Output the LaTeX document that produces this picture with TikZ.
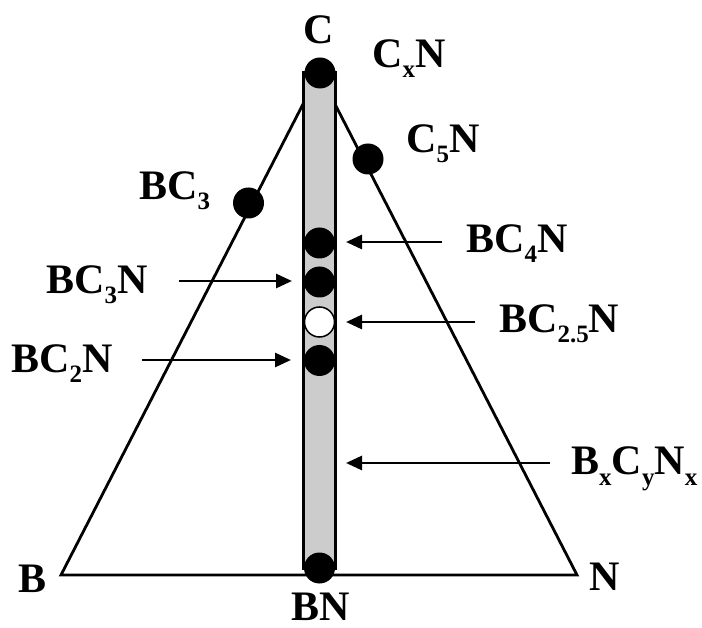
\documentclass[tikz,border=0pt]{standalone}
\usepackage{fontspec}
\setmainfont{Liberation Serif}
\usetikzlibrary{arrows.meta}
\newcommand\sbs[1]{\raisebox{-10pt}{\fontsize{25}{25}\selectfont #1}}
\begin{document}
\begin{tikzpicture}[x=1pt,y=-1pt,
  lbl/.style={inner sep=0pt,anchor=base west,font=\bfseries\fontsize{42}{42}\selectfont},
  edge/.style={line width=2.8pt,line join=miter},
  bar/.style={draw=black,fill=black!20,line width=3pt},
  fdot/.style={circle,fill=black,inner sep=0pt,minimum size=31pt},
  odot/.style={circle,fill=white,draw=black,line width=1.5pt,inner sep=0pt,minimum size=30pt},
  arr/.style={line width=2.8pt,-{Triangle[length=16pt,width=14pt]}}]
\useasboundingbox (0,0) rectangle (702,628);
% triangle
\coordinate (cB) at (61,575);
\coordinate (cN) at (577,575);
\coordinate (cC) at (319,73);
\draw[edge] (cC) -- (cB) -- (cN) -- cycle;
% bar
\draw[bar] (303,73) rectangle (335,568);
% dots
\node[fdot] (dC) at (320,73) {};
\node[fdot] (dC5) at (368,159) {};
\node[fdot] (dBC3) at (248.5,203) {};
\node[fdot] (dBC4N) at (319.5,243) {};
\node[fdot] (dBC3N) at (319.5,282) {};
\node[odot] (dBC25N) at (319.5,322) {};
\node[fdot] (dBC2N) at (319.5,360.5) {};
\node[fdot] (dBN) at (319.5,568) {};
% labels
\node[lbl,anchor=base] (lC) at (319,44) {C};
\node[lbl] (lCxN) at (372,68) {C\sbs{x}N};
\node[lbl] (lC5N) at (406,153) {C\sbs{5}N};
\node[lbl] (lBC3) at (139,200) {BC\sbs{3}};
\node[lbl] (lBC4N) at (466,253) {BC\sbs{4}N};
\node[lbl] (lBC25N) at (499,333) {BC\sbs{2.5}N};
\node[lbl] (lBxCyNx) at (571,475) {B\sbs{x}C\sbs{y}N\sbs{x}};
\node[lbl] (lBC3N) at (46,294) {BC\sbs{3}N};
\node[lbl] (lBC2N) at (11,373) {BC\sbs{2}N};
\node[lbl] (lB) at (18,592) {B};
\node[lbl] (lN) at (589,590) {N};
\node[lbl,anchor=base] (lBN) at (321,620) {BN};
% arrow anchors
\coordinate (a1s) at (442,242); \coordinate (a1e) at (346,242);
\coordinate (a2s) at (475,322); \coordinate (a2e) at (346,322);
\coordinate (a3s) at (550,463); \coordinate (a3e) at (346,463);
\coordinate (a4s) at (179,281); \coordinate (a4e) at (292,281);
\coordinate (a5s) at (142,360); \coordinate (a5e) at (291,360);
\draw[arr] (a1s) -- (a1e);
\draw[arr] (a2s) -- (a2e);
\draw[arr] (a3s) -- (a3e);
\draw[arr] (a4s) -- (a4e);
\draw[arr] (a5s) -- (a5e);
\end{tikzpicture}
\end{document}
